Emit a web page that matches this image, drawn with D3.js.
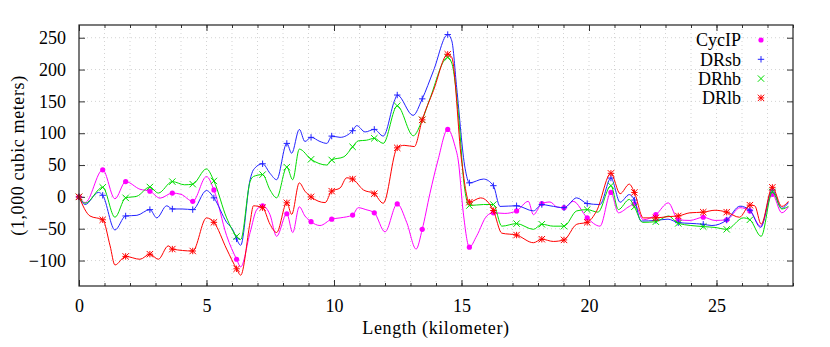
<!DOCTYPE html>
<html><head><meta charset="utf-8">
<script src="https://cdn.jsdelivr.net/npm/d3@7"></script>
<style>
html,body{margin:0;padding:0;background:#fff;}
svg{display:block;}
svg text{font-family:"Liberation Serif","Times New Roman","DejaVu Serif",serif !important;}
</style></head>
<body><svg id="chart" width="830" height="347"></svg>
<script>
// ---------- data ----------
const seriesNames = ["CycIP", "DRsb", "DRhb", "DRlb"];
const xTicks = [0, 5, 10, 15, 20, 25];
const yTicks = [-100, -50, 0, 50, 100, 150, 200, 250];

// positions (km) of the point symbols, shared by all series
const markerKm = [0,0.93,1.83,2.78,3.66,4.46,5.29,6.18,7.20,8.15,9.10,9.91,10.73,11.58,12.48,13.46,14.46,15.31,16.25,17.16,18.15,19.02,19.93,20.86,21.78,22.62,23.50,24.48,25.40,26.31,27.19];

const cycipMarks = [0,42.5,24,9,6,-7,11,-98,-14,-26.5,-39,-35,-28.6,-25,-11,-51,106,-79,-25,-22,-10.5,-17,-33,7,-11,-28,-36,-32,-36,-22,4];
const drsbMarks  = [0,2.5,-30,-20,-19,-20,-1.5,-66,52,84,93.5,95.5,104,106,160,154,255,22,17.6,-14,-12,-17,-10.5,29.6,-5,-37,-40.5,-43,-36.4,-21,11];
const drhbMarks  = [0,15,-1.5,15.5,24,20,25,-62,35,46.7,59,58,78.6,92,143,121,219,-13.6,-12,-42,-43,-46,-20,17.6,-15.6,-39,-41.6,-46.7,-51,-36,7.8];
const drlbMarks  = [0,-36,-93.5,-90,-82,-85,-40,-113,-17,-9.3,0,9,28,5,77,121,224,-8.3,-21.4,-60,-66.5,-67.6,-40,37,7,-33,-30,-24,-24,-13,15];

// intermediate line points [km, value]
const cycipLine = [[0.24,-9],[1.41,-3],[2.39,12],[3.18,-2],[4.0,4],[5.0,32],[5.79,-61],[6.34,-110],[6.71,-56],[6.97,-20],[7.49,-28],[7.75,-62],[8.38,-56],[8.64,-15.6],[8.86,-30],[9.45,-45],[10.24,-33],[10.95,-17],[11.25,-20],[12.0,-55],[12.85,-40],[13.22,-82],[13.76,5],[14.08,58],[14.75,79],[14.87,58],[15.07,-25],[15.6,-61],[15.99,-30],[16.7,-26],[17.62,-7],[17.82,-28],[18.47,-8],[18.75,-16],[19.38,-7],[20.43,-46],[21.15,-25],[21.58,-15],[22.13,-36],[23.11,-9.4],[23.96,-37],[24.94,-37],[25.92,-17],[26.73,-46],[27.56,-25],[27.82,-15.6]];
const drsbLine = [[0.24,-12],[0.76,7],[1.41,-52],[2.27,-29],[3.05,-33],[3.44,-14],[4.04,-19],[5.0,10],[5.79,-40],[6.05,-53],[6.34,-76],[6.71,27],[6.84,42.5],[7.49,37],[7.75,27],[8.34,68.5],[8.64,106],[8.86,87],[9.45,87],[9.72,84],[10.24,93.5],[10.89,112],[11.22,102],[11.93,95.5],[12.39,153],[13.1,128],[13.9,198],[14.62,245],[14.81,172],[15.14,45],[15.86,28],[16.51,-15],[17.82,-22],[18.47,-14],[19.52,-1.5],[20.43,-12],[21.22,-8.4],[21.58,3.6],[22.04,-38],[23.1,-35],[23.96,-41.6],[24.82,-45],[25.92,-14.6],[26.73,-48],[27.56,-18],[27.82,-9]];
const drhbLine = [[0.24,-10],[1.41,-32],[2.27,1],[3.11,6],[4.14,19],[5.0,44],[5.79,-33],[6.34,-67],[6.71,24],[6.84,32],[7.49,11],[7.75,-1.5],[8.38,27],[8.64,75],[9.72,50],[10.39,63],[10.95,88],[11.27,89],[11.93,84],[13.11,96],[13.76,154],[14.62,210],[14.9,120],[15.1,20],[15.86,-12],[16.58,-46],[17.82,-51],[18.6,-46],[19.52,-22],[20.35,-24],[21.15,-20],[21.58,-4],[22.1,-40],[23.11,-30],[24.94,-48],[26.05,-33],[26.75,-62],[27.56,-19],[27.82,-15]];
const drlbLine = [[0.43,-30],[1.22,-77],[1.41,-107],[2.39,-98],[3.11,-98],[3.5,-77],[5.0,-33],[5.79,-82],[6.34,-123],[6.71,-40],[6.84,-14],[7.49,-43],[7.75,-56],[8.34,-27.5],[8.64,22],[8.86,9],[9.65,-9],[10.24,14],[10.5,30],[11.15,11],[11.93,-10],[12.75,81],[13.15,79],[13.9,167],[14.62,219],[15.0,58],[15.75,-1.6],[16.58,-57],[17.82,-72],[18.6,-70],[19.52,-43],[20.3,-22],[21.22,5],[21.58,20],[22.13,-33],[23.1,-31],[23.96,-25],[24.94,-21],[25.9,-32],[26.5,-14],[26.75,-43],[27.56,-15],[27.82,-7]];

// ---------- chart ----------
const W = 830, H = 347;
const m = {left: 79, right: 37, top: 25, bottom: 61};
const FONT = "'Liberation Serif', 'Times New Roman', 'DejaVu Serif', serif";
const svg = d3.select("#chart").attr("font-family", FONT);
const x = d3.scaleLinear().domain([0, 28]).range([m.left, W - m.right]);
const y = d3.scaleLinear().domain([-140, 270]).range([H - m.bottom, m.top]);

const colors = {CycIP: "#ff00ff", DRsb: "#2222ff", DRhb: "#00dd00", DRlb: "#ff0000"};
const series = [
  {name: "CycIP", line: cycipLine, marks: cycipMarks, sym: "circle"},
  {name: "DRsb",  line: drsbLine,  marks: drsbMarks,  sym: "plus"},
  {name: "DRhb",  line: drhbLine,  marks: drhbMarks,  sym: "cross"},
  {name: "DRlb",  line: drlbLine,  marks: drlbMarks,  sym: "star"}
];

// grid
const g = svg.append("g");
g.selectAll("line.vg").data(d3.range(1, 28)).enter().append("line")
  .attr("x1", d => x(d)).attr("x2", d => x(d)).attr("y1", y(-140)).attr("y2", y(270))
  .attr("stroke", "#c8c8c8").attr("stroke-width", 0.8).attr("stroke-dasharray", "1,3");
g.selectAll("line.hg").data(yTicks).enter().append("line")
  .attr("y1", d => y(d)).attr("y2", d => y(d)).attr("x1", x(0)).attr("x2", x(28))
  .attr("stroke", "#c8c8c8").attr("stroke-width", 0.8).attr("stroke-dasharray", "1,3");

// axes (ticks inward, mirrored)
const fs = "18px";
const xAxisB = d3.axisBottom(x).tickValues(xTicks).tickSize(-6).tickPadding(13).tickFormat(d3.format("d"));
const xAxisBm = d3.axisBottom(x).tickValues(d3.range(0, 29)).tickSize(-3).tickFormat("");
const xAxisT = d3.axisTop(x).tickValues(xTicks).tickSize(-6).tickFormat("");
const xAxisTm = d3.axisTop(x).tickValues(d3.range(0, 29)).tickSize(-3).tickFormat("");
const yAxisL = d3.axisLeft(y).tickValues(yTicks).tickSize(-6).tickPadding(13);
const yAxisR = d3.axisRight(y).tickValues(yTicks).tickSize(-6).tickFormat("");

function styleAxis(sel) {
  sel.attr("font-family", FONT).attr("font-size", fs);
  sel.select(".domain").remove();
  sel.selectAll(".tick line").attr("stroke", "#333").attr("stroke-width", 1);
  sel.selectAll("text").attr("font-size", fs).attr("fill", "#000").attr("font-family", FONT);
}
svg.append("g").attr("transform", `translate(0,${y(-140)})`).call(xAxisBm).call(styleAxis);
svg.append("g").attr("transform", `translate(0,${y(-140)})`).call(xAxisB).call(styleAxis);
svg.append("g").attr("transform", `translate(0,${y(270)})`).call(xAxisTm).call(styleAxis);
svg.append("g").attr("transform", `translate(0,${y(270)})`).call(xAxisT).call(styleAxis);
svg.append("g").attr("transform", `translate(${x(0)},0)`).call(yAxisL).call(styleAxis);
svg.append("g").attr("transform", `translate(${x(28)},0)`).call(yAxisR).call(styleAxis);

// lines & markers
const lineGen = d3.line().x(d => x(d[0])).y(d => y(d[1])).curve(d3.curveMonotoneX);
function symbol(sel, type, color) {
  const s = 3.2;
  if (type === "circle") {
    sel.append("circle").attr("r", 2.6).attr("fill", color);
  } else {
    const p = [];
    if (type === "plus" || type === "star") p.push(`M${-s},0L${s},0M0,${-s}L0,${s}`);
    if (type === "cross" || type === "star") p.push(`M${-s},${-s}L${s},${s}M${-s},${s}L${s},${-s}`);
    sel.append("path").attr("d", p.join("")).attr("stroke", color).attr("stroke-width", 1).attr("fill", "none");
  }
}
series.forEach(s => {
  const markPts = markerKm.map((k, i) => [k, s.marks[i]]);
  const pts = s.line.concat(markPts).sort((a, b) => a[0] - b[0]);
  svg.append("path").datum(pts).attr("d", lineGen)
    .attr("fill", "none").attr("stroke", colors[s.name]).attr("stroke-width", 1);
  svg.append("g").selectAll("g").data(markPts).enter().append("g")
    .attr("transform", d => `translate(${x(d[0])},${y(d[1])})`)
    .each(function() { symbol(d3.select(this), s.sym, colors[s.name]); });
});

// frame
svg.append("rect").attr("x", x(0)).attr("y", y(270)).attr("width", x(28) - x(0)).attr("height", y(-140) - y(270))
  .attr("fill", "none").attr("stroke", "#222").attr("stroke-width", 1.2);

// legend
const leg = svg.append("g");
series.forEach((s, i) => {
  const yy = 40 + i * 19.3;
  leg.append("text").attr("x", 741).attr("y", yy).attr("dy", "0.35em").attr("text-anchor", "end")
    .attr("font-size", fs).attr("font-family", FONT).text(s.name);
  const gg = leg.append("g").attr("transform", `translate(761,${yy})`);
  symbol(gg, s.sym, colors[s.name]);
});

// axis titles
svg.append("text").attr("x", (x(0) + x(28)) / 2).attr("y", 334).attr("text-anchor", "middle")
  .attr("font-size", fs).attr("font-family", FONT).attr("letter-spacing", "0.6px").text("Length (kilometer)");
svg.append("text").attr("transform", `translate(24,${(y(-140) + y(270)) / 2}) rotate(-90)`)
  .attr("text-anchor", "middle").attr("font-size", fs).attr("font-family", FONT)
  .attr("letter-spacing", "0.6px").text("(1,000 cubic meters)");
</script></body></html>
